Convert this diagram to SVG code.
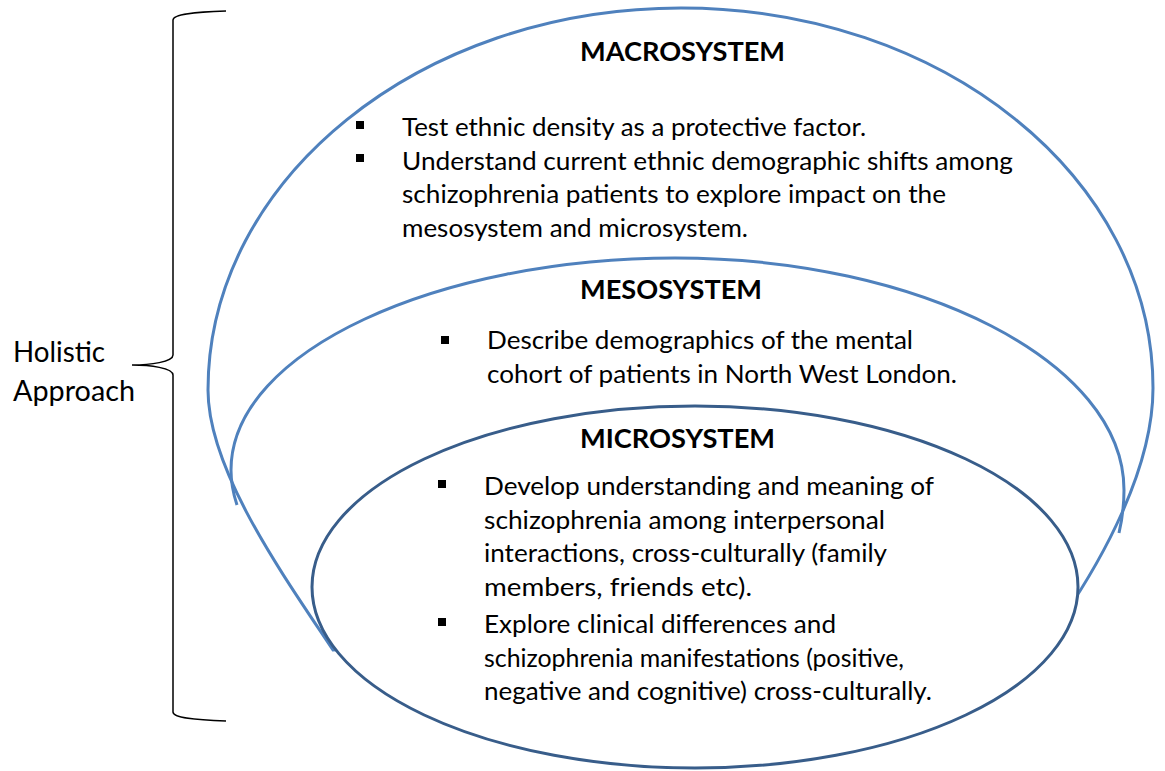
<svg xmlns="http://www.w3.org/2000/svg" width="1165" height="771" viewBox="0 0 1165 771">
<style>
.sys{fill:#fff;stroke:#4F81BD;stroke-width:3}
.line{fill:none;stroke:#4F81BD;stroke-width:3}
.micro{fill:#fff;stroke:#385D8A;stroke-width:3}
.t{font-family:Lato,"Open Sans","Liberation Sans",sans-serif;font-size:25px;fill:#000}
.hl{font-family:Lato,"Open Sans","Liberation Sans",sans-serif;font-size:28px;fill:#000}
.h{font-family:Lato,"Open Sans","Liberation Sans",sans-serif;font-size:27px;font-weight:bold;fill:#000}
.b{fill:#000}
</style>
<rect width="1165" height="771" fill="#fff"/>
<g id="brace">
<path d="M226,11 C195,12 173,14 173,20 L173,355 C173,362 150,365 132,365 C150,365 173,368 173,375 L173,712 C173,718 195,720 226,721" fill="none" stroke="#000" stroke-width="1.5"/>
<text class="hl" x="13" y="362" textLength="92" lengthAdjust="spacingAndGlyphs">Holistic</text>
<text class="hl" x="13" y="401" textLength="122" lengthAdjust="spacingAndGlyphs">Approach</text>
</g>
<g id="macrosystem">
<path class="sys" d="M333,650 C283,575 208,470 208,390 C208,179 420,8 681,8 C942,8 1153,177 1153,388 C1153,470 1101,561 1063,617 Z"/>
<text class="h" x="580" y="61" textLength="205" lengthAdjust="spacingAndGlyphs">MACROSYSTEM</text>
<rect class="b" x="356" y="121" width="8" height="8"/>
<rect class="b" x="356" y="154" width="8" height="8"/>
<text class="t" x="402" y="136" textLength="464" lengthAdjust="spacingAndGlyphs">Test ethnic density as a protective factor.</text>
<text class="t" x="402" y="170" textLength="611" lengthAdjust="spacingAndGlyphs">Understand current ethnic demographic shifts among</text>
<text class="t" x="402" y="203" textLength="544" lengthAdjust="spacingAndGlyphs">schizophrenia patients to explore impact on the</text>
<text class="t" x="402" y="237" textLength="346" lengthAdjust="spacingAndGlyphs">mesosystem and microsystem.</text>
</g>
<g id="mesosystem">
<path class="line" d="M237,505 C232,490 231,480 231,470 C231,350 440,258 675,258 C920,258 1124,362 1124,490 C1124,505 1122,520 1119,533"/>
<text class="h" x="580" y="299" textLength="182" lengthAdjust="spacingAndGlyphs">MESOSYSTEM</text>
<rect class="b" x="441" y="336" width="8" height="8"/>
<text class="t" x="487" y="349" textLength="426" lengthAdjust="spacingAndGlyphs">Describe demographics of the mental</text>
<text class="t" x="487" y="383" textLength="470" lengthAdjust="spacingAndGlyphs">cohort of patients in North West London.</text>
</g>
<g id="microsystem">
<ellipse class="micro" cx="695" cy="587" rx="383" ry="181"/>
<text class="h" x="580" y="448" textLength="195" lengthAdjust="spacingAndGlyphs">MICROSYSTEM</text>
<rect class="b" x="438" y="480" width="8" height="8"/>
<rect class="b" x="438" y="618" width="8" height="8"/>
<text class="t" x="484" y="495" textLength="450" lengthAdjust="spacingAndGlyphs">Develop understanding and meaning of</text>
<text class="t" x="484" y="529" textLength="401" lengthAdjust="spacingAndGlyphs">schizophrenia among interpersonal</text>
<text class="t" x="484" y="562" textLength="403" lengthAdjust="spacingAndGlyphs">interactions, cross-culturally (family</text>
<text class="t" x="484" y="596" textLength="268" lengthAdjust="spacingAndGlyphs">members, friends etc).</text>
<text class="t" x="484" y="633" textLength="352" lengthAdjust="spacingAndGlyphs">Explore clinical differences and</text>
<text class="t" x="484" y="667" textLength="420" lengthAdjust="spacingAndGlyphs">schizophrenia manifestations (positive,</text>
<text class="t" x="484" y="700" textLength="448" lengthAdjust="spacingAndGlyphs">negative and cognitive) cross-culturally.</text>
</g>
<g id="connectors"/>
</svg>
